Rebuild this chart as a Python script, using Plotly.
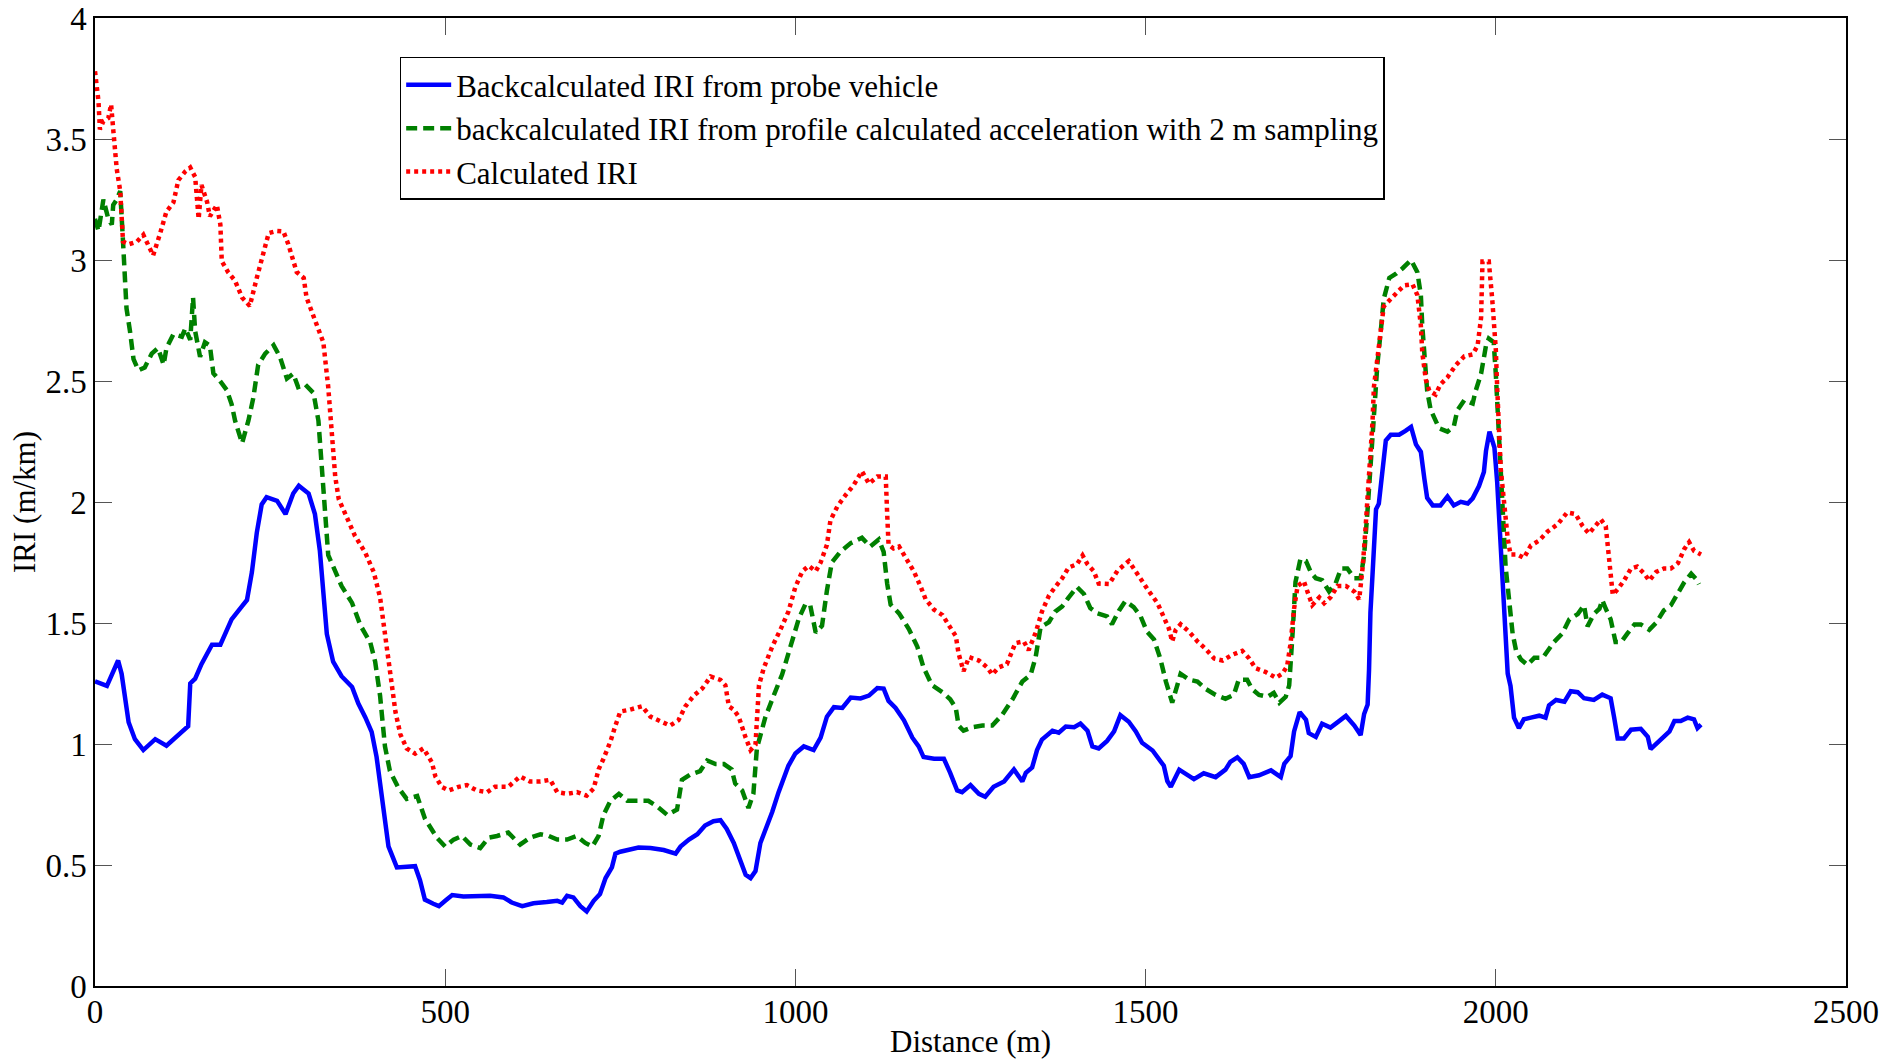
import plotly.graph_objects as go

# Distance (m) and IRI (m/km) for the probe-vehicle back-calculation
dist_probe = [0, 17, 33, 38, 48, 57, 69, 86, 102, 119, 133, 136, 143, 152, 167, 179, 195, 210, 217, 224,
              231, 238, 245, 260, 272, 283, 291, 305, 314, 321, 326, 331, 340, 352, 367, 376, 386, 395, 402, 410,
              419, 431, 445, 457, 464, 471, 483, 491, 500, 510, 526, 545, 564, 583, 595, 610, 626, 645, 660, 667,
              674, 683, 693, 702, 712, 721, 729, 738, 743, 750, 764, 776, 793, 812, 829, 836, 848, 860, 871, 883,
              893, 902, 912, 921, 929, 936, 943, 950, 957, 967, 976, 983, 990, 1000, 1012, 1026, 1036, 1045, 1055, 1067,
              1079, 1093, 1105, 1117, 1126, 1133, 1143, 1155, 1167, 1176, 1183, 1198, 1212, 1221, 1231, 1238, 1250, 1262, 1271, 1283,
              1298, 1312, 1324, 1329, 1338, 1345, 1352, 1367, 1376, 1386, 1398, 1407, 1417, 1424, 1433, 1445, 1455, 1464, 1476, 1486,
              1495, 1510, 1519, 1526, 1531, 1536, 1548, 1557, 1569, 1583, 1600, 1614, 1621, 1631, 1640, 1648, 1662, 1679, 1686, 1693,
              1698, 1707, 1712, 1720, 1729, 1733, 1743, 1752, 1764, 1774, 1786, 1798, 1807, 1812, 1817, 1819, 1821, 1824, 1826, 1829,
              1833, 1838, 1843, 1850, 1862, 1871, 1879, 1886, 1893, 1898, 1902, 1910, 1921, 1931, 1940, 1950, 1960, 1967, 1976, 1983,
              1986, 1991, 1998, 2002, 2007, 2010, 2012, 2014, 2017, 2021, 2026, 2033, 2040, 2050, 2062, 2071, 2076, 2086, 2098, 2107,
              2117, 2126, 2140, 2152, 2164, 2169, 2174, 2183, 2193, 2207, 2217, 2221, 2229, 2238, 2248, 2255, 2264, 2274, 2283, 2288,
              2293]
iri_probe = [1.259, 1.24, 1.345, 1.29, 1.09, 1.02, 0.975, 1.02, 0.993, 1.04, 1.074, 1.25, 1.27, 1.33, 1.41, 1.41, 1.515, 1.57, 1.595, 1.71,
             1.873, 1.99, 2.02, 2.005, 1.95, 2.035, 2.067, 2.035, 1.95, 1.80, 1.64, 1.455, 1.34, 1.28, 1.236, 1.167, 1.11, 1.05, 0.947, 0.785,
             0.577, 0.49, 0.495, 0.495, 0.437, 0.357, 0.34, 0.33, 0.352, 0.376, 0.37, 0.37, 0.373, 0.366, 0.345, 0.33, 0.342, 0.347, 0.352, 0.345,
             0.373, 0.366, 0.33, 0.308, 0.352, 0.38, 0.446, 0.49, 0.547, 0.555, 0.562, 0.572, 0.57, 0.562, 0.547, 0.576, 0.605, 0.627, 0.663, 0.681,
             0.685, 0.649, 0.591, 0.526, 0.46, 0.446, 0.475, 0.591, 0.64, 0.72, 0.801, 0.852, 0.91, 0.961, 0.99, 0.975, 1.026, 1.113, 1.152, 1.149,
             1.192, 1.188, 1.20, 1.231, 1.229, 1.178, 1.149, 1.098, 1.026, 0.99, 0.946, 0.939, 0.939, 0.881, 0.808, 0.801, 0.83, 0.794, 0.782, 0.823,
             0.845, 0.895, 0.845, 0.881, 0.903, 0.975, 1.018, 1.055, 1.047, 1.072, 1.069, 1.084, 1.055, 0.99, 0.982, 1.013, 1.052, 1.119, 1.092, 1.052,
             1.005, 0.973, 0.934, 0.91, 0.847, 0.823, 0.894, 0.879, 0.855, 0.879, 0.863, 0.894, 0.926, 0.945, 0.918, 0.863, 0.871, 0.891, 0.879, 0.863,
             0.918, 0.95, 1.052, 1.132, 1.1, 1.045, 1.029, 1.084, 1.068, 1.092, 1.116, 1.076, 1.037, 1.124, 1.163, 1.306, 1.543, 1.701, 1.859, 1.97,
             1.993, 2.144, 2.254, 2.278, 2.278, 2.294, 2.31, 2.238, 2.207, 2.096, 2.017, 1.986, 1.986, 2.023, 1.986, 2.001, 1.994, 2.015, 2.066, 2.124,
             2.211, 2.291, 2.225, 2.081, 1.82, 1.675, 1.53, 1.385, 1.291, 1.24, 1.109, 1.066, 1.102, 1.109, 1.117, 1.109, 1.16, 1.182, 1.175, 1.218,
             1.214, 1.189, 1.182, 1.204, 1.189, 1.109, 1.023, 1.023, 1.059, 1.063, 1.03, 0.979, 1.001, 1.023, 1.052, 1.095, 1.095, 1.109, 1.102, 1.066,
             1.08]

# Back-calculation from profile-derived acceleration, 2 m sampling
dist_profile = [0, 5, 12, 19, 24, 26, 31, 36, 40, 43, 45, 50, 55, 62, 71, 81, 90, 98, 102, 112,
                124, 129, 136, 140, 143, 150, 157, 164, 169, 179, 188, 195, 200, 210, 219, 226, 233, 243, 255, 264,
                274, 283, 290, 300, 312, 319, 324, 329, 333, 340, 352, 367, 379, 393, 400, 407, 414, 421, 433, 445,
                460, 471, 483, 488, 500, 512, 524, 536, 550, 562, 574, 590, 607, 621, 636, 648, 660, 674, 688, 700,
                710, 719, 726, 736, 748, 760, 774, 790, 802, 817, 831, 838, 850, 864, 874, 886, 898, 909, 914, 924,
                933, 940, 945, 952, 957, 969, 981, 993, 1005, 1014, 1021, 1029, 1038, 1045, 1052, 1064, 1079, 1095, 1107, 1119,
                1126, 1131, 1136, 1148, 1162, 1174, 1183, 1195, 1210, 1221, 1229, 1233, 1240, 1252, 1267, 1281, 1295, 1310, 1324, 1336,
                1343, 1350, 1362, 1371, 1381, 1390, 1402, 1412, 1421, 1431, 1445, 1452, 1462, 1471, 1483, 1493, 1502, 1512, 1521, 1529,
                1538, 1550, 1562, 1574, 1586, 1600, 1614, 1626, 1633, 1645, 1652, 1662, 1674, 1683, 1691, 1700, 1705, 1710, 1714, 1721,
                1729, 1736, 1743, 1752, 1762, 1771, 1779, 1788, 1798, 1807, 1812, 1817, 1821, 1826, 1831, 1836, 1840, 1848, 1857, 1867,
                1879, 1888, 1893, 1895, 1898, 1902, 1907, 1919, 1931, 1940, 1945, 1955, 1967, 1971, 1979, 1986, 1990, 1997, 2000, 2002,
                2005, 2007, 2010, 2012, 2014, 2019, 2024, 2029, 2036, 2045, 2055, 2067, 2074, 2083, 2095, 2105, 2117, 2126, 2131, 2140,
                2148, 2152, 2157, 2164, 2171, 2179, 2188, 2198, 2207, 2219, 2229, 2240, 2250, 2260, 2269, 2279, 2286, 2290]
iri_profile = [3.17, 3.12, 3.25, 3.17, 3.146, 3.227, 3.25, 3.285, 3.076, 2.89, 2.80, 2.705, 2.59, 2.544, 2.556, 2.613, 2.636, 2.567, 2.636, 2.694,
               2.683, 2.718, 2.67, 2.845, 2.706, 2.60, 2.66, 2.647, 2.532, 2.498, 2.463, 2.405, 2.336, 2.243, 2.336, 2.43, 2.567, 2.613, 2.648, 2.60,
               2.51, 2.53, 2.475, 2.486, 2.45, 2.336, 2.127, 1.942, 1.78, 1.734, 1.653, 1.583, 1.49, 1.42, 1.34, 1.20, 0.99, 0.889, 0.82, 0.773,
               0.785, 0.692, 0.634, 0.613, 0.576, 0.605, 0.62, 0.584, 0.57, 0.613, 0.62, 0.634, 0.584, 0.613, 0.627, 0.62, 0.605, 0.605, 0.62, 0.591,
               0.576, 0.62, 0.707, 0.765, 0.794, 0.765, 0.765, 0.765, 0.743, 0.707, 0.729, 0.852, 0.874, 0.888, 0.932, 0.917, 0.917, 0.895, 0.837, 0.808,
               0.736, 0.794, 0.982, 1.055, 1.11, 1.20, 1.287, 1.403, 1.519, 1.576, 1.576, 1.46, 1.489, 1.634, 1.75, 1.794, 1.83, 1.852, 1.816, 1.845,
               1.794, 1.663, 1.576, 1.54, 1.475, 1.403, 1.316, 1.243, 1.214, 1.185, 1.149, 1.076, 1.055, 1.069, 1.076, 1.076, 1.12, 1.185, 1.258, 1.287,
               1.359, 1.482, 1.504, 1.547, 1.569, 1.605, 1.649, 1.62, 1.562, 1.54, 1.527, 1.495, 1.551, 1.59, 1.566, 1.527, 1.464, 1.432, 1.353, 1.258,
               1.171, 1.29, 1.266, 1.258, 1.227, 1.203, 1.187, 1.203, 1.266, 1.266, 1.227, 1.203, 1.195, 1.211, 1.171, 1.195, 1.242, 1.464, 1.669, 1.764,
               1.756, 1.709, 1.685, 1.677, 1.63, 1.661, 1.725, 1.725, 1.685, 1.685, 1.78, 1.97, 2.16, 2.365, 2.571, 2.713, 2.839, 2.926, 2.942, 2.966,
               3.0, 2.95, 2.855, 2.729, 2.586, 2.46, 2.381, 2.305, 2.291, 2.312, 2.378, 2.421, 2.407, 2.457, 2.53, 2.646, 2.675, 2.66, 2.53, 2.399,
               2.255, 2.11, 1.965, 1.849, 1.733, 1.602, 1.457, 1.385, 1.349, 1.327, 1.356, 1.356, 1.385, 1.421, 1.457, 1.515, 1.537, 1.573, 1.486, 1.537,
               1.559, 1.595, 1.559, 1.515, 1.421, 1.421, 1.457, 1.494, 1.494, 1.472, 1.501, 1.552, 1.573, 1.624, 1.668, 1.704, 1.682, 1.66]

# IRI calculated directly from the measured profile
dist_calc = [0, 5, 7, 12, 19, 23, 26, 31, 36, 40, 48, 60, 69, 76, 83, 93, 102, 112, 119, 129,
             136, 143, 148, 152, 160, 164, 174, 179, 181, 190, 200, 210, 221, 231, 240, 248, 260, 269, 276, 288,
             298, 302, 314, 326, 333, 338, 343, 348, 360, 371, 386, 398, 407, 414, 421, 429, 436, 445, 457, 469,
             481, 486, 495, 505, 519, 531, 545, 560, 571, 590, 607, 621, 636, 650, 660, 674, 688, 702, 712, 719,
             726, 736, 743, 750, 764, 781, 793, 810, 821, 833, 843, 855, 867, 879, 893, 900, 905, 912, 919, 929,
             936, 943, 948, 955, 967, 979, 990, 1000, 1010, 1019, 1029, 1036, 1045, 1050, 1060, 1071, 1083, 1095, 1105, 1117,
             1129, 1131, 1133, 1140, 1148, 1157, 1169, 1179, 1186, 1198, 1210, 1221, 1229, 1233, 1240, 1248, 1262, 1274, 1281, 1290,
             1302, 1314, 1326, 1333, 1343, 1352, 1362, 1371, 1381, 1390, 1402, 1410, 1417, 1426, 1433, 1448, 1460, 1476, 1483, 1493,
             1505, 1517, 1526, 1533, 1538, 1543, 1550, 1562, 1574, 1586, 1598, 1610, 1624, 1638, 1648, 1657, 1671, 1686, 1695, 1702,
             1707, 1712, 1717, 1726, 1731, 1738, 1748, 1755, 1764, 1774, 1786, 1798, 1805, 1810, 1814, 1817, 1819, 1824, 1826, 1831,
             1836, 1840, 1850, 1860, 1869, 1881, 1888, 1893, 1895, 1900, 1905, 1914, 1921, 1931, 1943, 1955, 1967, 1974, 1979, 1981,
             1990, 1995, 2000, 2002, 2005, 2007, 2012, 2017, 2021, 2031, 2040, 2050, 2062, 2074, 2088, 2102, 2114, 2124, 2133, 2143,
             2150, 2157, 2162, 2167, 2174, 2183, 2193, 2202, 2212, 2219, 2229, 2240, 2250, 2260, 2269, 2276, 2283, 2293]
iri_calc = [3.78, 3.655, 3.54, 3.574, 3.586, 3.643, 3.54, 3.377, 3.285, 3.076, 3.065, 3.076, 3.104, 3.065, 3.019, 3.11, 3.20, 3.238, 3.33, 3.366,
            3.382, 3.343, 3.17, 3.31, 3.24, 3.18, 3.227, 3.146, 2.995, 2.95, 2.914, 2.845, 2.81, 2.926, 3.03, 3.111, 3.12, 3.118, 3.065, 2.95,
            2.926, 2.845, 2.752, 2.66, 2.475, 2.29, 2.104, 2.012, 1.93, 1.861, 1.79, 1.71, 1.606, 1.456, 1.294, 1.132, 1.04, 0.982, 0.96, 0.982,
            0.924, 0.866, 0.823, 0.808, 0.823, 0.83, 0.808, 0.801, 0.823, 0.823, 0.866, 0.845, 0.845, 0.852, 0.801, 0.794, 0.801, 0.787, 0.816, 0.895,
            0.939, 1.011, 1.076, 1.134, 1.142, 1.156, 1.113, 1.091, 1.076, 1.098, 1.156, 1.20, 1.229, 1.279, 1.265, 1.243, 1.156, 1.142, 1.113, 1.026,
            0.975, 0.997, 1.243, 1.315, 1.403, 1.475, 1.547, 1.649, 1.714, 1.736, 1.714, 1.75, 1.823, 1.924, 1.982, 2.026, 2.069, 2.127, 2.076, 2.105,
            2.105, 1.953, 1.823, 1.808, 1.816, 1.772, 1.714, 1.649, 1.598, 1.555, 1.533, 1.482, 1.446, 1.374, 1.301, 1.359, 1.345, 1.316, 1.287, 1.316,
            1.33, 1.417, 1.424, 1.388, 1.46, 1.547, 1.613, 1.649, 1.685, 1.729, 1.743, 1.779, 1.743, 1.714, 1.663, 1.661, 1.717, 1.756, 1.725, 1.677,
            1.63, 1.582, 1.527, 1.479, 1.424, 1.472, 1.495, 1.464, 1.424, 1.392, 1.353, 1.345, 1.369, 1.385, 1.353, 1.313, 1.298, 1.274, 1.29, 1.321,
            1.416, 1.559, 1.653, 1.672, 1.63, 1.574, 1.606, 1.582, 1.606, 1.653, 1.653, 1.63, 1.598, 1.733, 1.891, 2.017, 2.144, 2.333, 2.476, 2.586,
            2.729, 2.808, 2.839, 2.871, 2.895, 2.9, 2.855, 2.729, 2.618, 2.507, 2.46, 2.444, 2.486, 2.515, 2.566, 2.602, 2.61, 2.646, 2.762, 2.994,
            2.994, 2.834, 2.631, 2.472, 2.312, 2.139, 1.994, 1.849, 1.783, 1.783, 1.769, 1.82, 1.841, 1.878, 1.907, 1.957, 1.95, 1.9, 1.87, 1.907,
            1.928, 1.9, 1.776, 1.617, 1.639, 1.675, 1.725, 1.733, 1.704, 1.675, 1.711, 1.725, 1.725, 1.747, 1.805, 1.834, 1.798, 1.783]

series_names = [
    "Backcalculated IRI from probe vehicle",
    "backcalculated IRI from profile calculated acceleration with 2 m sampling",
    "Calculated IRI",
]

x_ticks = [0, 500, 1000, 1500, 2000, 2500]
y_ticks = [0, 0.5, 1, 1.5, 2, 2.5, 3, 3.5, 4]

SERIF = "Liberation Serif, Times New Roman, serif"

fig = go.Figure()
fig.add_trace(go.Scatter(x=dist_probe, y=iri_probe, mode="lines", name=series_names[0],
                         line=dict(color="rgb(0,0,255)", width=4.5)))
fig.add_trace(go.Scatter(x=dist_profile, y=iri_profile, mode="lines", name=series_names[1],
                         line=dict(color="rgb(0,128,0)", width=4.5, dash="11px,6px")))
fig.add_trace(go.Scatter(x=dist_calc, y=iri_calc, mode="lines", name=series_names[2],
                         line=dict(color="rgb(255,0,0)", width=4.5, dash="4px,4px")))

axis_common = dict(
    showline=True, linecolor="black", linewidth=1.5, mirror="ticks",
    ticks="inside", ticklen=17, tickwidth=1, tickcolor="#555555",
    showgrid=False, zeroline=False, automargin=False,
    tickfont=dict(family=SERIF, size=33, color="black"),
)

fig.update_xaxes(range=[0, 2500], tickvals=x_ticks, ticktext=[str(v) for v in x_ticks],
                 ticklabelstandoff=-4,
                 title=dict(text="Distance (m)", font=dict(family=SERIF, size=31, color="black"), standoff=2),
                 **axis_common)
fig.update_yaxes(range=[0, 4], tickvals=y_ticks, ticktext=[f"{v:g}" for v in y_ticks],
                 title=dict(text="IRI (m/km)", font=dict(family=SERIF, size=31, color="black"), standoff=1),
                 **axis_common)

fig.update_layout(
    width=1900, height=1059,
    margin=dict(l=95, r=54, t=18, b=73),
    paper_bgcolor="white", plot_bgcolor="white",
    font=dict(family=SERIF, color="black"),
    legend=dict(x=0.174, y=0.96, xanchor="left", yanchor="top",
                bgcolor="white", bordercolor="black", borderwidth=1.5,
                font=dict(family=SERIF, size=31, color="black"),
                itemwidth=45, tracegroupgap=0),
    showlegend=True,
)

fig.write_html("out.html")
